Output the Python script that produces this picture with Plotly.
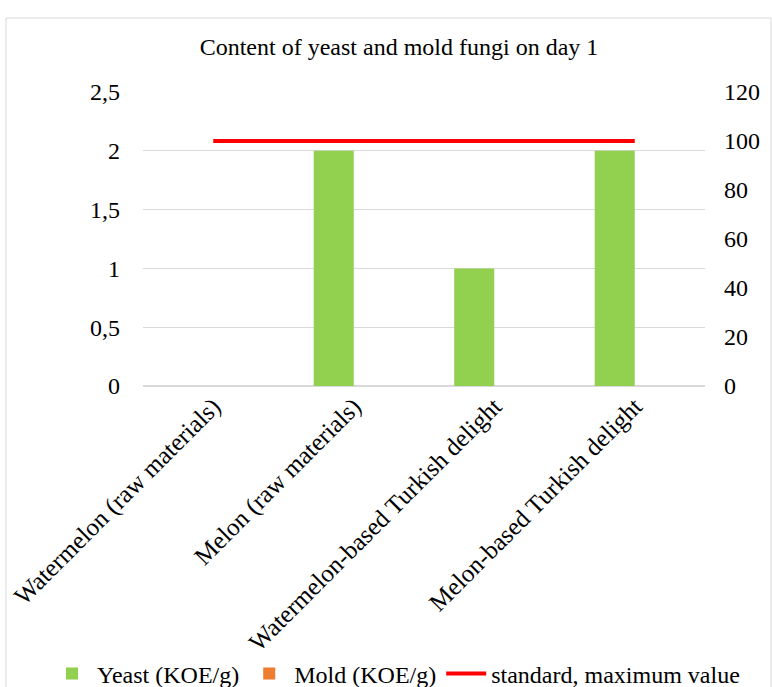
import plotly.graph_objects as go

categories = [
    "Watermelon (raw materials)",
    "Melon (raw materials)",
    "Watermelon-based Turkish delight",
    "Melon-based Turkish delight",
]
yeast = [0, 2, 1, 2]
mold = [0, 0, 0, 0]
standard = [100, 100, 100, 100]

left_ticks = [0, 0.5, 1, 1.5, 2, 2.5]
left_labels = ["0", "0,5", "1", "1,5", "2", "2,5"]
right_ticks = [0, 20, 40, 60, 80, 100, 120]

FONT = "Liberation Serif, Times New Roman, serif"
FS = 24

# plot area in pixels
L, R, T, B = 143, 705, 92, 386
PW, PH = R - L, B - T

fig = go.Figure()
fig.add_trace(go.Bar(
    x=categories, y=yeast, name="Yeast (KOE/g)",
    marker=dict(color="#92D050", line=dict(width=0)),
))
fig.add_trace(go.Bar(
    x=categories, y=mold, name="Mold (KOE/g)",
    marker=dict(color="#ED7D31", line=dict(width=0)),
))
fig.add_trace(go.Scatter(
    x=categories, y=standard, name="standard, maximum value",
    mode="lines", line=dict(color="#FF0000", width=4), yaxis="y2",
))

fig.update_layout(
    width=772, height=687,
    margin=dict(l=L, r=772 - R, t=T, b=687 - B, autoexpand=False),
    paper_bgcolor="white", plot_bgcolor="white",
    font=dict(family=FONT, size=FS, color="#000000"),
    title=dict(
        text="Content of yeast and mold fungi on day 1",
        x=399 / 772, xanchor="center", y=1 - 47 / 687, yanchor="middle",
        font=dict(family=FONT, size=FS, color="#000000"),
    ),
    barmode="group", bargap=0.43, bargroupgap=0,
    xaxis=dict(
        tickangle=-45, showgrid=False, showline=False, ticks="",
        tickfont=dict(family=FONT, size=25), automargin=False,
    ),
    yaxis=dict(
        range=[0, 2.5], tickvals=left_ticks, ticktext=left_labels,
        showgrid=True, gridcolor="#D9D9D9", gridwidth=1,
        zeroline=True, zerolinecolor="#D9D9D9", zerolinewidth=2,
        showline=False, ticks="", ticklabelstandoff=22,
        tickfont=dict(family=FONT, size=FS), automargin=False,
    ),
    yaxis2=dict(
        range=[0, 120], tickvals=right_ticks, overlaying="y", side="right",
        showgrid=False, zeroline=False, showline=False, ticks="",
        ticklabelstandoff=18,
        tickfont=dict(family=FONT, size=FS), automargin=False,
    ),
    legend=dict(
        orientation="h", xref="paper", yref="paper",
        x=(47 - L) / PW, xanchor="left", y=(B - 674) / PH, yanchor="middle",
        font=dict(family=FONT, size=FS), itemwidth=40, tracegroupgap=0,
        bgcolor="rgba(0,0,0,0)",
    ),
    showlegend=True,
)

# thin frame around the chart area
fig.add_shape(
    type="rect", xref="paper", yref="paper",
    x0=(6 - L) / PW, x1=(771 - L) / PW,
    y0=(B - 700) / PH, y1=(B - 18) / PH,
    line=dict(color="#D9D9D9", width=1), fillcolor="rgba(0,0,0,0)", layer="below",
)

fig.write_html("out.html")
